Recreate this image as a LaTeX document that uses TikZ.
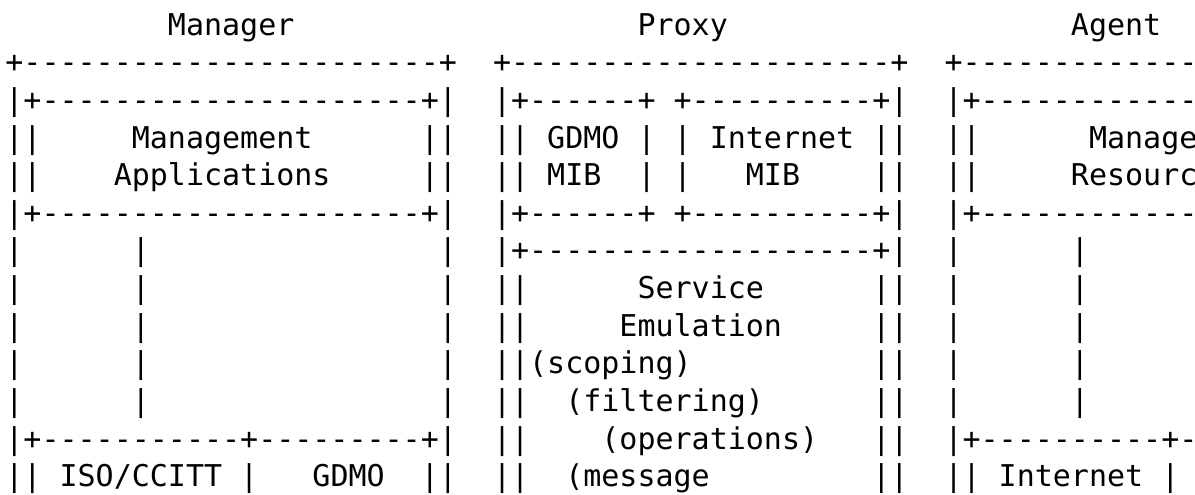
\documentclass[tikz,border=0pt]{standalone}
\usepackage{fontspec}
\setmonofont{DejaVu Sans Mono}
\usepackage{tikz}
\tikzset{
  chr/.style={anchor=base west, inner sep=0pt, outer sep=0pt, text=black,
              font=\ttfamily\fontsize{15pt}{18pt}\selectfont},
}
\newcommand{\dashrun}[1]{\foreach \k in {1,...,#1}{-}}

\begin{document}
\begin{tikzpicture}[x=9.03pt, y=18.83pt]
  \useasboundingbox (0,0) rectangle (597.5pt,-247pt);
  \newcommand{\ascii}[3]{% row, column, text
    \node[chr] (r#1c#2) at ({#2+0.3},{0.07-#1}) {#3};}
  % titles
  \ascii{1}{9}{Manager}
  \ascii{1}{35}{Proxy}
  \ascii{1}{59}{Agent}
  % outer tops
  \ascii{2}{0}{+\dashrun{23}+}
  \ascii{2}{27}{+\dashrun{21}+}
  \ascii{2}{52}{+\dashrun{13}}
  % inner boxes, top and bottom
  \foreach \r in {3,6} {
    \ascii{\r}{0}{|+\dashrun{21}+|}
    \ascii{\r}{27}{|+\dashrun{6}+}
    \ascii{\r}{37}{+\dashrun{10}+|}
    \ascii{\r}{52}{|+\dashrun{12}}
  }
  \foreach \r in {4,5} {
    \ascii{\r}{0}{||}
    \ascii{\r}{23}{||}
    \ascii{\r}{27}{||}
    \ascii{\r}{35}{|}
    \ascii{\r}{37}{|}
    \ascii{\r}{48}{||}
    \ascii{\r}{52}{||}
  }
  \ascii{4}{7}{Management}
  \ascii{5}{6}{Applications}
  \ascii{4}{30}{GDMO}
  \ascii{5}{30}{MIB}
  \ascii{4}{39}{Internet}
  \ascii{5}{41}{MIB}
  \ascii{4}{60}{Manage}
  \ascii{5}{59}{Resourc}
  % middle part
  \ascii{7}{27}{|+\dashrun{19}+|}
  \foreach \r in {7,...,11} {
    \ascii{\r}{0}{|}
    \ascii{\r}{7}{|}
    \ascii{\r}{24}{|}
    \ascii{\r}{52}{|}
    \ascii{\r}{59}{|}
  }
  \foreach \r in {8,...,13} {
    \ascii{\r}{27}{||}
    \ascii{\r}{48}{||}
  }
  \ascii{8}{35}{Service}
  \ascii{9}{34}{Emulation}
  \ascii{10}{29}{(scoping)}
  \ascii{11}{31}{(filtering)}
  \ascii{12}{33}{(operations)}
  \ascii{13}{31}{(message}
  % protocol boxes
  \ascii{12}{0}{|+\dashrun{11}+\dashrun{9}+|}
  \ascii{12}{52}{|+\dashrun{10}+-}
  \ascii{13}{0}{||}
  \ascii{13}{3}{ISO/CCITT}
  \ascii{13}{13}{|}
  \ascii{13}{17}{GDMO}
  \ascii{13}{23}{||}
  \ascii{13}{52}{||}
  \ascii{13}{55}{Internet}
  \ascii{13}{64}{|}
\end{tikzpicture}
\end{document}
